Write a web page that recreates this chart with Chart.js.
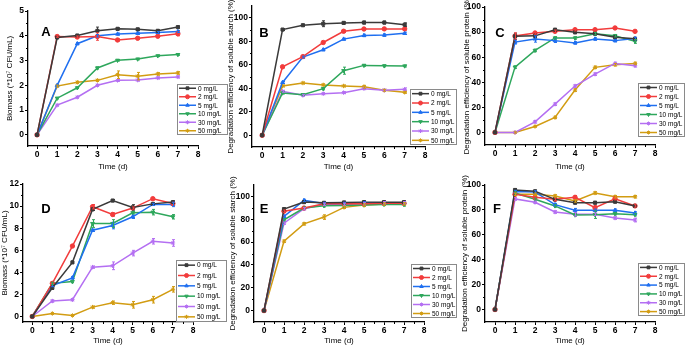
<!DOCTYPE html>
<html>
<head>
<meta charset="utf-8">
<script src="https://cdn.jsdelivr.net/npm/chart.js@4.4.1/dist/chart.umd.min.js"></script>
<style>
  body { margin: 0; background: #fff; width: 685px; height: 346px; position: relative; overflow: hidden; }
  canvas { position: absolute; }
</style>
</head>
<body>
<canvas id="cA" width="230" height="172" style="left:0;top:0"></canvas>
<canvas id="cB" width="234" height="172" style="left:224px;top:0"></canvas>
<canvas id="cC" width="227" height="172" style="left:458px;top:0"></canvas>
<canvas id="cD" width="230" height="174" style="left:0;top:172px"></canvas>
<canvas id="cE" width="234" height="174" style="left:224px;top:172px"></canvas>
<canvas id="cF" width="227" height="174" style="left:458px;top:172px"></canvas>
<script>
const days = [0, 1, 2, 3, 4, 5, 6, 7];
const xTicks = [0, 1, 2, 3, 4, 5, 6, 7, 8];
const doses = ['0 mg/L', '2 mg/L', '5 mg/L', '10 mg/L', '30 mg/L', '50 mg/L'];

// A - biomass (*10^7 CFU/mL)
const biomassA = [
  [0, 3.93, 4.01, 4.2, 4.28, 4.26, 4.2, 4.35],
  [0, 3.97, 3.95, 3.97, 3.83, 3.9, 3.98, 4.08],
  [0, 2.0, 3.68, 4.0, 4.07, 4.1, 4.13, 4.17],
  [0, 1.48, 1.9, 2.7, 3.01, 3.06, 3.19, 3.24],
  [0, 1.2, 1.52, 2.0, 2.2, 2.21, 2.3, 2.34],
  [0, 1.97, 2.12, 2.2, 2.43, 2.37, 2.46, 2.5]
];
const errA = [
  [0, 0.03, 0.03, 0.15, 0.04, 0.04, 0.04, 0.04],
  [0, 0.03, 0.04, 0.15, 0.04, 0.04, 0.04, 0.08],
  [0, 0.03, 0.04, 0.05, 0.04, 0.04, 0.04, 0.04],
  [0, 0.03, 0.03, 0.04, 0.03, 0.03, 0.03, 0.03],
  [0, 0.03, 0.03, 0.04, 0.04, 0.04, 0.04, 0.04],
  [0, 0.04, 0.04, 0.04, 0.15, 0.15, 0.05, 0.05]
];
// B - soluble starch degradation (%)
const starchB = [
  [0, 90, 93.7, 95, 95.7, 96, 96, 94.2],
  [0, 58.3, 67, 79, 88.6, 90.5, 90.6, 90.6],
  [0, 45, 66.6, 72.8, 81.9, 85, 85.3, 86.8],
  [0, 36, 34.6, 39.7, 55, 59.5, 59.1, 59],
  [0, 37.4, 34, 35.4, 36.3, 39.7, 38.3, 39.1],
  [0, 42, 44.5, 42.9, 42, 41.3, 38.3, 36.6]
];
const errB = [
  [0, 0.8, 0.8, 2.5, 0.8, 1.2, 1.2, 1.5],
  [0, 0.8, 0.8, 0.8, 0.8, 0.8, 0.8, 0.8],
  [0, 0.8, 0.8, 0.8, 0.8, 1.0, 1.0, 1.0],
  [0, 0.8, 0.8, 1.0, 3.0, 0.8, 0.8, 0.8],
  [0, 0.8, 0.8, 0.8, 0.8, 0.8, 0.8, 1.2],
  [0, 0.8, 0.8, 0.8, 0.8, 1.2, 0.8, 0.8]
];
// C - soluble protein degradation (%)
const proteinC = [
  [0, 76.6, 77, 81.9, 79.8, 78.7, 75.8, 74.7],
  [0, 76.9, 79.3, 80.6, 81.9, 81.9, 83.3, 80.6],
  [0, 72, 74.5, 73.2, 71.4, 74.5, 73.2, 74.8],
  [0, 52.1, 65.4, 75.3, 75.3, 78.7, 77.1, 72.6],
  [0, 0, 8.5, 22.6, 37, 46.5, 55, 53.2],
  [0, 0, 4.8, 12, 33.8, 51.9, 54, 55]
];
const errC = [
  [0, 2.5, 1.5, 1.0, 1.0, 1.0, 1.0, 1.0],
  [0, 2.5, 1.0, 1.0, 1.0, 1.0, 1.0, 1.0],
  [0, 1.5, 2.5, 1.5, 1.0, 1.0, 1.0, 1.0],
  [0, 1.0, 1.0, 1.0, 1.0, 1.0, 1.0, 1.5],
  [0, 0.5, 1.0, 1.0, 1.0, 1.0, 1.0, 1.0],
  [0, 0.5, 0.5, 1.0, 1.0, 1.0, 1.0, 1.0]
];
// D - biomass (*10^7 CFU/mL)
const biomassD = [
  [0, 2.6, 4.9, 9.7, 10.5, 9.88, 10.2, 10.36],
  [0, 3.0, 6.38, 9.94, 9.24, 9.82, 10.67, 10.24],
  [0, 2.8, 3.5, 7.81, 8.24, 9.03, 10.15, 10.15],
  [0, 3.0, 3.16, 8.42, 8.42, 9.39, 9.45, 9.03],
  [0, 1.4, 1.52, 4.47, 4.59, 5.74, 6.81, 6.66],
  [0, 0.27, 0.09, 0.85, 1.25, 1.06, 1.52, 2.46]
];
const errD = [
  [0, 0.15, 0.1, 0.1, 0.1, 0.25, 0.1, 0.1],
  [0, 0.1, 0.1, 0.2, 0.15, 0.1, 0.1, 0.1],
  [0, 0.1, 0.1, 0.1, 0.3, 0.15, 0.1, 0.2],
  [0, 0.1, 0.1, 0.35, 0.35, 0.1, 0.25, 0.2],
  [0, 0.1, 0.1, 0.1, 0.35, 0.25, 0.25, 0.3],
  [0, 0.05, 0.05, 0.1, 0.15, 0.3, 0.3, 0.25]
];
// E - soluble starch degradation (%)
const starchE = [
  [0, 88.9, 95, 94.4, 94.7, 95, 95, 95],
  [0, 87.1, 89.8, 93.6, 93.6, 93.6, 94, 94],
  [0, 82.5, 96.5, 93.9, 93.9, 94.4, 94.4, 94.4],
  [0, 79.5, 89.8, 91.8, 92, 92.5, 93, 93],
  [0, 76.6, 89.2, 93, 93, 93.5, 94.5, 94.5],
  [0, 60.8, 76, 81.9, 90.4, 92.4, 93.3, 93.5]
];
const errE = [
  [0, 1.0, 1.0, 1.0, 1.0, 1.0, 1.0, 1.0],
  [0, 1.0, 1.0, 1.0, 1.0, 1.0, 1.0, 1.0],
  [0, 1.0, 1.0, 1.0, 1.0, 1.0, 1.0, 1.0],
  [0, 1.0, 1.0, 1.0, 1.0, 1.0, 1.0, 1.5],
  [0, 1.0, 1.0, 1.0, 1.0, 1.0, 1.0, 1.0],
  [0, 1.0, 1.0, 2.0, 1.0, 1.0, 1.0, 1.0]
];
// F - soluble protein degradation (%)
const proteinF = [
  [0, 96, 94.9, 88.5, 85.8, 85.8, 86.6, 83.2],
  [0, 92.5, 90.1, 88.5, 90.1, 81.8, 89, 83.2],
  [0, 94.7, 94.4, 84.2, 79.7, 79.7, 79.7, 77.5],
  [0, 93.6, 88.5, 83.2, 75.9, 76.2, 77, 76.2],
  [0, 88.8, 86.1, 78.3, 76.5, 76.5, 73.5, 71.9],
  [0, 92.5, 92.5, 91.2, 87.2, 93.6, 90.6, 90.6]
];
const errF = [
  [0, 1.0, 1.0, 1.0, 1.0, 1.0, 1.0, 1.0],
  [0, 1.0, 1.0, 1.0, 1.5, 1.5, 1.0, 1.0],
  [0, 1.0, 1.0, 1.0, 1.5, 1.0, 1.0, 1.0],
  [0, 1.0, 1.0, 1.0, 1.0, 3.0, 1.0, 1.0],
  [0, 1.0, 1.0, 1.0, 1.5, 1.0, 1.0, 1.5],
  [0, 1.0, 1.0, 1.0, 1.0, 1.0, 1.0, 1.0]
];

const biomassTicksA = [0, 1, 2, 3, 4, 5];
const biomassTicksD = [0, 2, 4, 6, 8, 10, 12];
const percentTicks = [0, 20, 40, 60, 80, 100];

const lineColors = ['#3a3a3a', '#f23c3c', '#1f6ff0', '#2ea75c', '#b46ff2', '#d29c12'];
const markers = [['rect', 0], ['circle', 0], ['triangle', 0], ['triangle', 180], ['star', 0], ['star', 0]];

const biomassTitle = 'Biomass (*10\u2077 CFU/mL)';
const starchTitle = 'Degradation efficiency of soluble starch (%)';
const proteinTitle = 'Degradation efficiency of soluble protein (%)';

// error bars under the markers
const errorBars = {
  id: 'errorBars',
  afterDatasetsDraw(chart) {
    const errs = chart.options.plugins.errorBars.errs;
    const ctx = chart.ctx, xs = chart.scales.x, ys = chart.scales.y;
    ctx.save();
    ctx.lineWidth = 1;
    chart.data.datasets.forEach((ds, i) => {
      ctx.strokeStyle = ds.borderColor;
      ds.data.forEach((p, j) => {
        const e = errs[i][j];
        if (!e) return;
        const x = Math.round(xs.getPixelForValue(p.x)) + 0.5;
        const y1 = ys.getPixelForValue(p.y + e), y2 = ys.getPixelForValue(p.y - e);
        ctx.beginPath();
        ctx.moveTo(x, y1); ctx.lineTo(x, y2);
        ctx.moveTo(x - 1.5, y1); ctx.lineTo(x + 1.5, y1);
        ctx.moveTo(x - 1.5, y2); ctx.lineTo(x + 1.5, y2);
        ctx.stroke();
      });
    });
    ctx.restore();
  }
};

// draws minor ticks, the panel letter and the legend box
const decor = {
  id: 'decor',
  afterDraw(chart) {
    const o = chart.options.plugins.decor;
    const ctx = chart.ctx, a = chart.chartArea;
    const xs = chart.scales.x, ys = chart.scales.y;
    ctx.save();
    ctx.strokeStyle = '#000';
    ctx.lineWidth = 1;
    for (let i = 0; i < xTicks.length - 1; i++) {
      const x = Math.round(xs.getPixelForValue(xTicks[i] + 0.5)) + 0.5;
      ctx.beginPath(); ctx.moveTo(x, a.bottom); ctx.lineTo(x, a.bottom + 2); ctx.stroke();
    }
    const yt = o.yTicks;
    for (let i = 0; i < yt.length - 1; i++) {
      const y = Math.round(ys.getPixelForValue((yt[i] + yt[i + 1]) / 2)) + 0.5;
      ctx.beginPath(); ctx.moveTo(a.left, y); ctx.lineTo(a.left - 2, y); ctx.stroke();
    }
    // panel letter
    ctx.fillStyle = '#000';
    ctx.font = 'bold 13px Arial';
    ctx.textAlign = 'center';
    ctx.textBaseline = 'middle';
    ctx.fillText(o.letter[0], o.letter[1], o.letter[2]);
    // legend
    const [lx, ly, lw, lh] = o.legend;
    ctx.fillStyle = '#fff';
    ctx.fillRect(lx, ly, lw, lh);
    ctx.strokeStyle = '#8a8a8a';
    ctx.strokeRect(lx + 0.5, ly + 0.5, lw - 1, lh - 1);
    const rowH = lh / 6;
    ctx.textAlign = 'left';
    ctx.font = '6.5px Arial';
    chart.data.datasets.forEach((ds, i) => {
      const cy = ly + rowH * (i + 0.5);
      ctx.strokeStyle = ds.borderColor;
      ctx.fillStyle = ds.borderColor;
      ctx.lineWidth = 1.5;
      ctx.beginPath(); ctx.moveTo(lx + 2, cy); ctx.lineTo(lx + 19, cy); ctx.stroke();
      ctx.lineWidth = 1;
      Chart.helpers.drawPoint(ctx, { pointStyle: ds.pointStyle, rotation: ds.pointRotation, radius: 2, borderWidth: 1 }, lx + 10.5, cy);
      ctx.fillStyle = '#000';
      ctx.fillText(ds.label, lx + 21, cy + 0.5);
    });
    ctx.restore();
  }
};

function makePanel(id, series, errs, g) {
  const tickFont = { family: 'Arial', size: 8.5, weight: 'bold' };
  new Chart(document.getElementById(id), {
    type: 'line',
    data: {
      labels: days,
      datasets: series.map((vals, i) => ({
        label: doses[i],
        data: vals.map((v, j) => ({ x: days[j], y: v })),
        borderColor: lineColors[i],
        backgroundColor: lineColors[i],
        pointBackgroundColor: lineColors[i],
        pointStyle: markers[i][0],
        pointRotation: markers[i][1],
        pointRadius: 2.2,
        pointBorderWidth: 1,
        borderWidth: 1.5,
        tension: 0,
        fill: false
      }))
    },
    options: {
      responsive: false,
      animation: false,
      devicePixelRatio: 1,
      layout: { padding: { left: 0, top: g.top, right: g.right, bottom: 0 } },
      plugins: {
        legend: { display: false },
        tooltip: { enabled: false },
        errorBars: { errs: errs },
        decor: { yTicks: g.yTicks, letter: g.letter, legend: g.legend }
      },
      scales: {
        x: {
          type: 'linear',
          min: g.xMin,
          max: 8,
          afterBuildTicks: s => { s.ticks = xTicks.map(v => ({ value: v })); },
          afterFit: s => { s.height = g.xHeight; },
          ticks: { font: tickFont, color: '#000', padding: 1, maxRotation: 0, autoSkip: false },
          grid: { drawOnChartArea: false, drawTicks: true, tickLength: 3, color: '#000', lineWidth: 1 },
          border: { display: true, color: '#000', width: 1.3 },
          title: { display: true, text: 'Time (d)', font: { family: 'Arial', size: 8 }, color: '#000', padding: 0 }
        },
        y: {
          min: g.yMin,
          max: g.yMax,
          afterBuildTicks: s => { s.ticks = g.yTicks.map(v => ({ value: v })); },
          afterFit: s => { s.width = g.yWidth; },
          ticks: { font: tickFont, color: '#000', padding: 1, autoSkip: false },
          grid: { drawOnChartArea: false, drawTicks: true, tickLength: 3, color: '#000', lineWidth: 1 },
          border: { display: true, color: '#000', width: 1.3 },
          title: { display: true, text: g.yTitle, font: { family: 'Arial', size: 8 }, color: '#000', padding: { top: g.titlePad, bottom: 0 } }
        }
      }
    },
    plugins: [errorBars, decor]
  });
}

makePanel('cA', biomassA, errA, { xMin: -0.45, yMin: -0.45, yMax: 5, yTicks: biomassTicksA, yTitle: biomassTitle,
  top: 11, right: 32, yWidth: 28, xHeight: 26, titlePad: 5, letter: ['A', 46, 32], legend: [177, 84, 51, 51] });
makePanel('cB', starchB, errB, { xMin: -0.5, yMin: -10, yMax: 110, yTicks: percentTicks, yTitle: starchTitle,
  top: 6, right: 33, yWidth: 28, xHeight: 25, titlePad: 2, letter: ['B', 40, 33], legend: [186, 89, 47, 56] });
makePanel('cC', proteinC, errC, { xMin: -0.5, yMin: -10, yMax: 100, yTicks: percentTicks, yTitle: proteinTitle,
  top: 7, right: 30, yWidth: 27, xHeight: 27, titlePad: 4, letter: ['C', 42, 33], legend: [180, 83, 47, 54] });
makePanel('cD', biomassD, errD, { xMin: -0.46, yMin: -0.5, yMax: 12, yTicks: biomassTicksD, yTitle: biomassTitle,
  top: 12, right: 37, yWidth: 23, xHeight: 24, titlePad: 0, letter: ['D', 46, 37], legend: [176, 88, 51, 62] });
makePanel('cE', starchE, errE, { xMin: -0.5, yMin: -10, yMax: 110, yTicks: percentTicks, yTitle: starchTitle,
  top: 13, right: 34, yWidth: 30, xHeight: 24, titlePad: 4, letter: ['E', 40, 37], legend: [187, 92, 46, 54] });
makePanel('cF', proteinF, errF, { xMin: -0.5, yMin: -10, yMax: 100, yTicks: percentTicks, yTitle: proteinTitle,
  top: 13, right: 30, yWidth: 27, xHeight: 24, titlePad: 2, letter: ['F', 39, 37], legend: [180, 91, 47, 53] });
</script>
</body>
</html>
